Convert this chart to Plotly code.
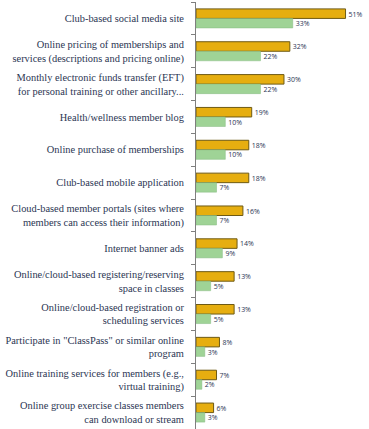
import plotly.graph_objects as go

categories = [
    "Club-based social media site",
    "Online pricing of memberships and<br>services (descriptions and pricing online)",
    "Monthly electronic funds transfer (EFT)<br>for personal training or other ancillary...",
    "Health/wellness member blog",
    "Online purchase of memberships",
    "Club-based mobile application",
    "Cloud-based member portals (sites where<br>members can access their information)",
    "Internet banner ads",
    "Online/cloud-based registering/reserving<br>space in classes",
    "Online/cloud-based registration or<br>scheduling services",
    "Participate in \"ClassPass\" or similar online<br>program",
    "Online training services for members (e.g.,<br>virtual training)",
    "Online group exercise classes members<br>can download or stream",
]
gold_values = [51, 32, 30, 19, 18, 18, 16, 14, 13, 13, 8, 7, 6]
green_values = [33, 22, 22, 10, 10, 7, 7, 9, 5, 5, 3, 2, 3]

text_color = "#2b3553"
serif = "Liberation Serif"

fig = go.Figure()
fig.add_trace(go.Bar(
    y=categories, x=gold_values, orientation="h",
    marker=dict(color="#e6ae10", line=dict(color="#6e5a14", width=1)),
    text=[f"{v}%" for v in gold_values], textposition="outside",
    textfont=dict(family="Open Sans", size=11, color=text_color),
    cliponaxis=False, hoverinfo="skip",
))
fig.add_trace(go.Bar(
    y=categories, x=green_values, orientation="h",
    marker=dict(color="#9fd396", line=dict(color="#86bb80", width=0.5)),
    text=[f"{v}%" for v in green_values], textposition="outside",
    textfont=dict(family="Open Sans", size=11, color=text_color),
    cliponaxis=False, hoverinfo="skip",
))

fig.update_layout(
    width=369, height=429,
    margin=dict(l=196, r=0, t=2, b=0),
    barmode="group", bargap=0.42, bargroupgap=0,
    plot_bgcolor="white", paper_bgcolor="white",
    showlegend=False,
    font=dict(family=serif, size=10.4, color=text_color),
    xaxis=dict(range=[0, 59], visible=False, showgrid=False, zeroline=False,
               automargin=False),
    yaxis=dict(autorange="reversed", showgrid=False, showline=True,
               linecolor="#7f7f7f", linewidth=1, ticks="outside",
               tickson="boundaries", ticklen=4, tickcolor="#7f7f7f",
               ticklabelstandoff=9, automargin=False,
               tickfont=dict(family=serif, size=10.4, color=text_color)),
)

fig.write_html("out.html", config={"displayModeBar": False},
               post_script="document.body.style.margin='0';")
